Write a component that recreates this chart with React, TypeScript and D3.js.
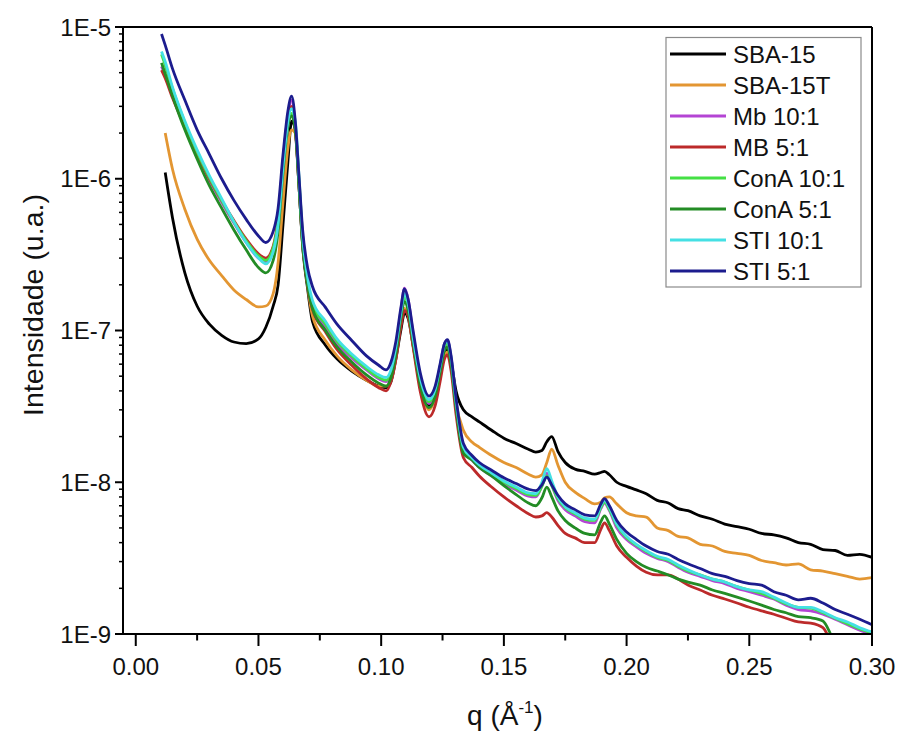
import React from 'react';
import * as d3 from 'd3';

// q values (Å^-1), shared by all series
const Q = [
  0.0105, 0.012, 0.015, 0.02, 0.025, 0.03, 0.035, 0.04, 0.045, 0.05, 0.053, 0.056,
  0.058, 0.06, 0.062, 0.0635, 0.065, 0.0665, 0.068, 0.07, 0.072, 0.0773, 0.082, 0.088, 0.094, 0.099, 0.102,
  0.104, 0.106, 0.108, 0.1095, 0.111, 0.113, 0.116, 0.1195, 0.122, 0.124, 0.1258, 0.127, 0.1285, 0.1305, 0.1335,
  0.137, 0.14, 0.145, 0.15, 0.155, 0.16, 0.163, 0.1655, 0.1675, 0.1695, 0.172, 0.175, 0.179, 0.183, 0.187,
  0.1895, 0.191, 0.193, 0.196, 0.2, 0.204, 0.208, 0.2125, 0.217, 0.221, 0.225, 0.23, 0.235, 0.24, 0.245,
  0.25, 0.255, 0.26, 0.265, 0.27, 0.275, 0.28, 0.285, 0.29, 0.295, 0.3,
];

const SBA15 = [
  null, 1.1e-6, 5.5e-7, 2.4e-7, 1.45e-7, 1.1e-7, 9.3e-8, 8.4e-8, 8.2e-8, 8.8e-8, 1.05e-7, 1.45e-7,
  2.0e-7, 5.0e-7, 1.3e-6, 2.4e-6, 2.1e-6, 9.0e-7, 3.6e-7, 1.9e-7, 1.15e-7, 8.0e-8, 6.5e-8, 5.4e-8, 4.7e-8, 4.3e-8, 4.2e-8,
  4.6e-8, 6.5e-8, 1.0e-7, 1.3e-7, 1.2e-7, 8.0e-8, 4.4e-8, 3.2e-8, 3.8e-8, 5.2e-8, 7.1e-8, 7.5e-8, 6.2e-8, 4.0e-8, 3.0e-8,
  2.7e-8, 2.5e-8, 2.2e-8, 1.95e-8, 1.8e-8, 1.65e-8, 1.58e-8, 1.62e-8, 1.85e-8, 2.0e-8, 1.6e-8, 1.35e-8, 1.22e-8, 1.18e-8, 1.13e-8,
  1.16e-8, 1.18e-8, 1.12e-8, 1.0e-8, 9.4e-9, 8.9e-9, 8.4e-9, 7.6e-9, 7.3e-9, 6.7e-9, 6.5e-9, 6.0e-9, 5.7e-9, 5.3e-9, 5.1e-9,
  4.9e-9, 4.6e-9, 4.5e-9, 4.3e-9, 4.0e-9, 3.9e-9, 3.6e-9, 3.55e-9, 3.3e-9, 3.35e-9, 3.2e-9,
];

const SBA15T = [
  null, 2.0e-6, 1.15e-6, 6.3e-7, 4.0e-7, 2.9e-7, 2.3e-7, 1.85e-7, 1.6e-7, 1.43e-7, 1.45e-7, 1.75e-7,
  2.8e-7, 7.0e-7, 1.6e-6, 2.1e-6, 2.0e-6, 1.0e-6, 4.2e-7, 2.0e-7, 1.25e-7, 8.6e-8, 6.8e-8, 5.5e-8, 4.7e-8, 4.3e-8, 4.3e-8,
  4.7e-8, 6.7e-8, 1.1e-7, 1.4e-7, 1.25e-7, 8.0e-8, 4.2e-8, 3.0e-8, 3.6e-8, 5.0e-8, 6.9e-8, 7.2e-8, 5.8e-8, 3.3e-8, 2.2e-8,
  1.84e-8, 1.7e-8, 1.5e-8, 1.35e-8, 1.25e-8, 1.13e-8, 1.08e-8, 1.12e-8, 1.35e-8, 1.65e-8, 1.3e-8, 1.0e-8, 8.6e-9, 7.8e-9, 7.2e-9,
  7.4e-9, 7.9e-9, 8.0e-9, 7.2e-9, 6.3e-9, 6.0e-9, 5.9e-9, 5.0e-9, 4.8e-9, 4.4e-9, 4.3e-9, 3.9e-9, 3.8e-9, 3.5e-9, 3.4e-9,
  3.3e-9, 3.05e-9, 2.95e-9, 2.85e-9, 2.9e-9, 2.65e-9, 2.6e-9, 2.5e-9, 2.4e-9, 2.3e-9, 2.35e-9,
];

const MB_10_1 = [
  5.5e-6, 4.8e-6, 3.5e-6, 2.2e-6, 1.45e-6, 9.8e-7, 7.0e-7, 5.1e-7, 3.8e-7, 3.0e-7, 2.85e-7, 3.4e-7,
  5.2e-7, 1.3e-6, 2.6e-6, 3.3e-6, 2.2e-6, 9.5e-7, 3.9e-7, 2.1e-7, 1.45e-7, 1.05e-7, 8.2e-8, 6.6e-8, 5.5e-8, 4.8e-8, 4.6e-8,
  5.2e-8, 7.5e-8, 1.35e-7, 1.9e-7, 1.6e-7, 9.5e-8, 4.8e-8, 3.3e-8, 4.0e-8, 5.8e-8, 8.2e-8, 8.6e-8, 6.6e-8, 3.3e-8, 1.65e-8,
  1.4e-8, 1.25e-8, 1.1e-8, 9.8e-9, 8.9e-9, 8.1e-9, 8.0e-9, 9.5e-9, 1.15e-8, 9.6e-9, 7.6e-9, 6.6e-9, 6.0e-9, 5.5e-9, 5.4e-9,
  6.7e-9, 7.3e-9, 6.5e-9, 5.0e-9, 4.2e-9, 3.75e-9, 3.4e-9, 3.15e-9, 3.0e-9, 2.75e-9, 2.55e-9, 2.4e-9, 2.25e-9, 2.15e-9, 2.0e-9,
  1.9e-9, 1.8e-9, 1.7e-9, 1.55e-9, 1.45e-9, 1.42e-9, 1.35e-9, 1.25e-9, 1.15e-9, 1.06e-9, 1.0e-9,
];

const MB_5_1 = [
  5.2e-6, 4.6e-6, 3.4e-6, 2.2e-6, 1.45e-6, 1.0e-6, 7.2e-7, 5.3e-7, 4.0e-7, 3.2e-7, 3.0e-7, 3.6e-7,
  5.5e-7, 1.3e-6, 2.5e-6, 3.0e-6, 2.1e-6, 9.0e-7, 3.7e-7, 2.0e-7, 1.38e-7, 9.8e-8, 7.5e-8, 5.9e-8, 4.8e-8, 4.2e-8, 4.0e-8,
  4.6e-8, 6.5e-8, 1.05e-7, 1.35e-7, 1.25e-7, 7.8e-8, 3.9e-8, 2.7e-8, 3.2e-8, 4.6e-8, 6.5e-8, 6.9e-8, 5.4e-8, 2.8e-8, 1.45e-8,
  1.25e-8, 1.1e-8, 9.3e-9, 8.0e-9, 7.0e-9, 6.2e-9, 5.9e-9, 6.0e-9, 6.3e-9, 5.9e-9, 5.2e-9, 4.6e-9, 4.3e-9, 4.0e-9, 4.0e-9,
  4.9e-9, 5.4e-9, 4.8e-9, 3.8e-9, 3.2e-9, 2.8e-9, 2.55e-9, 2.45e-9, 2.45e-9, 2.3e-9, 2.1e-9, 1.95e-9, 1.8e-9, 1.7e-9, 1.6e-9,
  1.5e-9, 1.42e-9, 1.35e-9, 1.27e-9, 1.2e-9, 1.18e-9, 1.1e-9, 8.0e-10, 7.5e-10, 7.0e-10, 6.5e-10,
];

const CONA_10_1 = [
  6.6e-6, 5.6e-6, 3.9e-6, 2.35e-6, 1.5e-6, 1.02e-6, 7.2e-7, 5.2e-7, 3.9e-7, 3.1e-7, 2.9e-7, 3.5e-7,
  5.3e-7, 1.25e-6, 2.4e-6, 2.7e-6, 2.2e-6, 9.5e-7, 3.9e-7, 2.1e-7, 1.5e-7, 1.1e-7, 8.5e-8, 6.8e-8, 5.6e-8, 4.9e-8, 4.7e-8,
  5.3e-8, 7.5e-8, 1.25e-7, 1.65e-7, 1.45e-7, 8.8e-8, 4.6e-8, 3.4e-8, 4.0e-8, 5.6e-8, 7.8e-8, 8.2e-8, 6.3e-8, 3.3e-8, 1.65e-8,
  1.42e-8, 1.28e-8, 1.13e-8, 1.0e-8, 9.1e-9, 8.3e-9, 8.2e-9, 9.4e-9, 1.1e-8, 9.5e-9, 7.8e-9, 6.8e-9, 6.2e-9, 5.7e-9, 5.6e-9,
  6.8e-9, 7.4e-9, 6.6e-9, 5.2e-9, 4.3e-9, 3.85e-9, 3.5e-9, 3.2e-9, 3.05e-9, 2.8e-9, 2.6e-9, 2.45e-9, 2.3e-9, 2.2e-9, 2.05e-9,
  1.95e-9, 1.85e-9, 1.72e-9, 1.58e-9, 1.5e-9, 1.48e-9, 1.38e-9, 1.27e-9, 1.17e-9, 1.08e-9, 1.02e-9,
];

const CONA_5_1 = [
  5.8e-6, 4.9e-6, 3.5e-6, 2.1e-6, 1.35e-6, 9.0e-7, 6.4e-7, 4.6e-7, 3.4e-7, 2.6e-7, 2.4e-7, 2.9e-7,
  4.5e-7, 1.1e-6, 2.2e-6, 2.6e-6, 2.1e-6, 9.0e-7, 3.7e-7, 2.0e-7, 1.4e-7, 1.0e-7, 7.8e-8, 6.2e-8, 5.1e-8, 4.5e-8, 4.3e-8,
  4.9e-8, 7.0e-8, 1.2e-7, 1.55e-7, 1.35e-7, 8.4e-8, 4.3e-8, 3.1e-8, 3.7e-8, 5.3e-8, 7.4e-8, 7.8e-8, 6.0e-8, 3.1e-8, 1.55e-8,
  1.4e-8, 1.25e-8, 1.1e-8, 9.5e-9, 8.3e-9, 7.3e-9, 7.0e-9, 7.9e-9, 9.3e-9, 8.0e-9, 6.5e-9, 5.6e-9, 5.0e-9, 4.6e-9, 4.5e-9,
  5.5e-9, 6.0e-9, 5.3e-9, 4.2e-9, 3.4e-9, 3.0e-9, 2.75e-9, 2.6e-9, 2.45e-9, 2.3e-9, 2.2e-9, 2.1e-9, 1.95e-9, 1.85e-9, 1.75e-9,
  1.65e-9, 1.55e-9, 1.45e-9, 1.38e-9, 1.3e-9, 1.28e-9, 1.22e-9, 9.0e-10, 8.5e-10, 8.0e-10, 7.5e-10,
];

const STI_10_1 = [
  6.9e-6, 5.9e-6, 4.0e-6, 2.4e-6, 1.55e-6, 1.05e-6, 7.4e-7, 5.2e-7, 3.8e-7, 3.0e-7, 2.75e-7, 3.3e-7,
  5.0e-7, 1.2e-6, 2.4e-6, 2.9e-6, 2.4e-6, 1.05e-6, 4.2e-7, 2.25e-7, 1.58e-7, 1.15e-7, 8.8e-8, 7.0e-8, 5.8e-8, 5.1e-8, 4.9e-8,
  5.5e-8, 7.8e-8, 1.3e-7, 1.75e-7, 1.5e-7, 9.0e-8, 4.8e-8, 3.5e-8, 4.1e-8, 5.8e-8, 8.1e-8, 8.5e-8, 6.6e-8, 3.4e-8, 1.7e-8,
  1.45e-8, 1.3e-8, 1.15e-8, 1.02e-8, 9.3e-9, 8.5e-9, 8.4e-9, 1.0e-8, 1.23e-8, 1.02e-8, 8.0e-9, 6.9e-9, 6.3e-9, 5.8e-9, 5.7e-9,
  7.0e-9, 7.6e-9, 6.8e-9, 5.3e-9, 4.4e-9, 3.9e-9, 3.55e-9, 3.25e-9, 3.1e-9, 2.85e-9, 2.65e-9, 2.45e-9, 2.3e-9, 2.2e-9, 2.05e-9,
  1.95e-9, 1.9e-9, 1.75e-9, 1.6e-9, 1.5e-9, 1.5e-9, 1.4e-9, 1.28e-9, 1.2e-9, 1.1e-9, 1.03e-9,
];

const STI_5_1 = [
  9.0e-6, 7.6e-6, 5.3e-6, 3.3e-6, 2.1e-6, 1.45e-6, 1.0e-6, 7.2e-7, 5.4e-7, 4.2e-7, 3.8e-7, 4.5e-7,
  6.4e-7, 1.44e-6, 2.8e-6, 3.5e-6, 2.4e-6, 1.05e-6, 4.6e-7, 2.6e-7, 1.95e-7, 1.42e-7, 1.1e-7, 8.6e-8, 6.8e-8, 5.9e-8, 5.5e-8,
  6.2e-8, 8.5e-8, 1.4e-7, 1.88e-7, 1.6e-7, 1.0e-7, 5.2e-8, 3.7e-8, 4.3e-8, 6.0e-8, 8.2e-8, 8.7e-8, 6.8e-8, 3.6e-8, 1.8e-8,
  1.5e-8, 1.35e-8, 1.2e-8, 1.07e-8, 9.8e-9, 9.0e-9, 8.8e-9, 9.6e-9, 1.08e-8, 9.6e-9, 8.2e-9, 7.2e-9, 6.6e-9, 6.1e-9, 6.0e-9,
  7.2e-9, 7.8e-9, 7.0e-9, 5.6e-9, 4.7e-9, 4.2e-9, 3.8e-9, 3.5e-9, 3.35e-9, 3.1e-9, 2.9e-9, 2.7e-9, 2.5e-9, 2.4e-9, 2.25e-9,
  2.15e-9, 2.1e-9, 1.9e-9, 1.8e-9, 1.68e-9, 1.72e-9, 1.6e-9, 1.45e-9, 1.35e-9, 1.25e-9, 1.15e-9,
];

const SERIES_NAMES = ['SBA-15', 'SBA-15T', 'Mb 10:1', 'MB 5:1', 'ConA 10:1', 'ConA 5:1', 'STI 10:1', 'STI 5:1'];
const SERIES_VALUES = [SBA15, SBA15T, MB_10_1, MB_5_1, CONA_10_1, CONA_5_1, STI_10_1, STI_5_1];
const SERIES_COLORS = ['#000000', '#E39632', '#B444D4', '#BC2A2A', '#44E044', '#238C25', '#44E0E4', '#1C1C8E'];

const X_TICKS = [0, 0.05, 0.1, 0.15, 0.2, 0.25, 0.3];
const X_TICK_LABELS = ['0.00', '0.05', '0.10', '0.15', '0.20', '0.25', '0.30'];
const X_MINOR = [0.025, 0.075, 0.125, 0.175, 0.225, 0.275];
const Y_TICKS = [1e-9, 1e-8, 1e-7, 1e-6, 1e-5];
const Y_TICK_LABELS = ['1E-9', '1E-8', '1E-7', '1E-6', '1E-5'];

const FONT = '"Liberation Sans", Arial, Helvetica, sans-serif';

export default function App() {
  const W = 901;
  const H = 733;
  const left = 123;
  const right = 872;
  const top = 27;
  const bottom = 634;

  const x = d3.scaleLinear().domain([-0.0052, 0.3]).range([left, right]);
  const y = d3.scaleLog().domain([1e-9, 1e-5]).range([bottom, top]);

  const line = d3
    .line<[number, number | null]>()
    .defined((d) => d[1] != null)
    .x((d) => x(d[0]))
    .y((d) => y(d[1] as number))
    .curve(d3.curveMonotoneX);

  const yMinor: number[] = [];
  for (let e = -9; e < -5; e++) {
    for (let m = 2; m <= 9; m++) yMinor.push(m * Math.pow(10, e));
  }

  const legX = 666;
  const legY = 37.5;
  const legStep = 31;

  return (
    <svg
      width={W}
      height={H}
      viewBox={`0 0 ${W} ${H}`}
      style={{ position: 'absolute', left: 0, top: 0, background: '#fff', display: 'block' }}
    >
      <rect x={0} y={0} width={W} height={H} fill="#fff" />
      <defs>
        <clipPath id="plotClip">
          <rect x={left} y={top} width={right - left} height={bottom - top} />
        </clipPath>
      </defs>

      <g clipPath="url(#plotClip)">
        {SERIES_VALUES.map((vals, i) => (
          <path
            key={SERIES_NAMES[i]}
            d={line(Q.map((q, k) => [q, vals[k]] as [number, number | null])) || ''}
            fill="none"
            stroke={SERIES_COLORS[i]}
            strokeWidth={2.8}
            strokeLinejoin="round"
          />
        ))}
      </g>

      {/* frame */}
      <line x1={left} x2={right} y1={top} y2={top} stroke="#000" strokeWidth={2} />
      <line x1={right} x2={right} y1={top} y2={bottom} stroke="#000" strokeWidth={2} />
      <line x1={left} x2={right + 1} y1={bottom} y2={bottom} stroke="#000" strokeWidth={2} />
      <line x1={left} x2={left} y1={top - 1} y2={bottom + 1} stroke="#000" strokeWidth={2} />

      {/* x ticks */}
      {X_TICKS.map((t, i) => (
        <g key={'xt' + i}>
          <line x1={x(t)} x2={x(t)} y1={bottom} y2={bottom + 12} stroke="#000" strokeWidth={2} />
          <text x={x(t)} y={bottom + 41} textAnchor="middle" fontFamily={FONT} fontSize={24} fill="#111">
            {X_TICK_LABELS[i]}
          </text>
        </g>
      ))}
      {X_MINOR.map((t, i) => (
        <line key={'xm' + i} x1={x(t)} x2={x(t)} y1={bottom} y2={bottom + 6.5} stroke="#000" strokeWidth={2} />
      ))}

      {/* y ticks */}
      {Y_TICKS.map((t, i) => (
        <g key={'yt' + i}>
          <line x1={left - 8} x2={left} y1={y(t)} y2={y(t)} stroke="#000" strokeWidth={2} />
          <text
            x={left - 12}
            y={y(t) + 8.5}
            textAnchor="end"
            fontFamily={FONT}
            fontSize={24}
            fill="#111"
          >
            {Y_TICK_LABELS[i]}
          </text>
        </g>
      ))}
      {yMinor.map((t, i) => (
        <line key={'ym' + i} x1={left - 4} x2={left} y1={y(t)} y2={y(t)} stroke="#000" strokeWidth={1.5} />
      ))}

      {/* axis titles */}
      <text
        transform={`translate(43, 305) rotate(-90)`}
        textAnchor="middle"
        fontFamily={FONT}
        fontSize={28.5}
        fill="#111"
      >
        Intensidade (u.a.)
      </text>
      <text x={505} y={725} textAnchor="middle" fontFamily={FONT} fontSize={28} fill="#111">
        q (Å
        <tspan fontSize={17} dy={-12}>-1</tspan>
        <tspan dy={12}>)</tspan>
      </text>

      {/* legend */}
      <rect x={legX} y={legY} width={195} height={249.5} fill="#fff" stroke="#8a8a8a" strokeWidth={1.2} />
      {SERIES_NAMES.map((name, i) => {
        const cy = 54 + i * legStep;
        return (
          <g key={'lg' + i}>
            <line x1={670} x2={726} y1={cy} y2={cy} stroke={SERIES_COLORS[i]} strokeWidth={3} />
            <text x={733} y={cy + 8.5} fontFamily={FONT} fontSize={24} fill="#111">
              {name}
            </text>
          </g>
        );
      })}
    </svg>
  );
}
